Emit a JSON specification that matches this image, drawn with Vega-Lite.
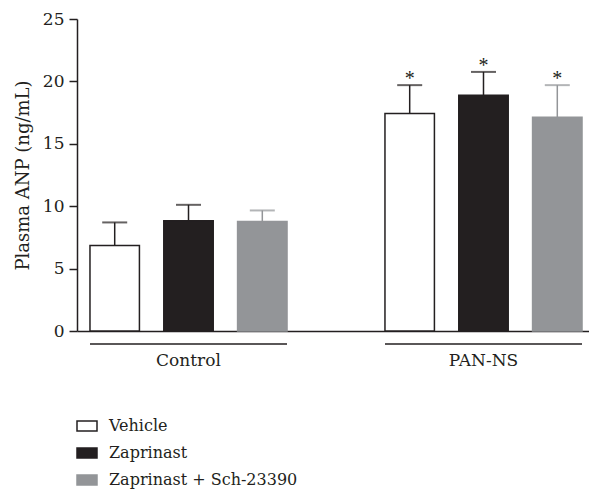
{
  "$schema": "https://vega.github.io/schema/vega-lite/v6.json",
  "width": 518,
  "height": 312,
  "autosize": "none",
  "padding": {"left": 77, "top": 19, "right": 0, "bottom": 160},
  "config": {
    "font": "DejaVu Serif",
    "view": {"stroke": null},
    "axis": {"domainColor": "#231f20", "domainWidth": 1.5, "tickColor": "#231f20", "tickWidth": 1.5, "labelColor": "#231f20", "titleColor": "#231f20", "grid": false, "labelFont": "DejaVu Serif", "titleFont": "DejaVu Serif"},
    "legend": {"labelFont": "DejaVu Serif"}
  },
  "data": {
    "values": [
      {"group": "Control", "treatment": "Vehicle", "value": 6.86, "upper": 8.70, "sig": ""},
      {"group": "Control", "treatment": "Zaprinast", "value": 8.83, "upper": 10.11, "sig": ""},
      {"group": "Control", "treatment": "Zaprinast + Sch-23390", "value": 8.78, "upper": 9.66, "sig": ""},
      {"group": "PAN-NS", "treatment": "Vehicle", "value": 17.43, "upper": 19.70, "sig": "*"},
      {"group": "PAN-NS", "treatment": "Zaprinast", "value": 18.90, "upper": 20.76, "sig": "*"},
      {"group": "PAN-NS", "treatment": "Zaprinast + Sch-23390", "value": 17.13, "upper": 19.70, "sig": "*"}
    ]
  },
  "layer": [
    {
      "mark": {"type": "bar", "strokeWidth": 1.5},
      "encoding": {
        "x": {"field": "group", "type": "nominal", "scale": {"paddingInner": 0.332, "paddingOuter": 0.044}, "title": null,
          "axis": {"labelAngle": 0, "ticks": false, "labelFontSize": 17, "labelPadding": 21, "domainWidth": 1.5}},
        "xOffset": {"field": "treatment", "type": "nominal", "scale": {"domain": ["Vehicle", "Zaprinast", "Zaprinast + Sch-23390"], "paddingInner": 0.33, "paddingOuter": 0}},
        "y": {"field": "value", "type": "quantitative", "scale": {"domain": [0, 25], "nice": false}, "title": "Plasma ANP (ng/mL)",
          "axis": {"values": [0, 5, 10, 15, 20, 25], "tickSize": 8, "labelFontSize": 17, "labelPadding": 5, "titleFontSize": 18, "titleFontWeight": "normal", "titlePadding": 10}},
        "fill": {"field": "treatment", "type": "nominal", "scale": {"domain": ["Vehicle", "Zaprinast", "Zaprinast + Sch-23390"], "range": ["#ffffff", "#231f20", "#939598"]},
          "legend": {"title": null, "orient": "none", "legendX": -1, "legendY": 396, "direction": "vertical", "symbolType": "M-1,-0.5H1V0.5H-1Z", "symbolSize": 400, "symbolStrokeWidth": 1.5, "labelFontSize": 16, "labelColor": "#231f20", "labelOffset": 11, "labelLimit": 400, "rowPadding": 8}},
        "stroke": {"field": "treatment", "type": "nominal", "scale": {"domain": ["Vehicle", "Zaprinast", "Zaprinast + Sch-23390"], "range": ["#231f20", "#231f20", "#939598"]}}
      }
    },
    {
      "mark": {"type": "rule", "strokeWidth": 1.5},
      "encoding": {
        "x": {"field": "group", "type": "nominal"},
        "xOffset": {"field": "treatment", "type": "nominal"},
        "y": {"field": "value", "type": "quantitative"},
        "y2": {"field": "upper"},
        "color": {"field": "treatment", "type": "nominal", "scale": {"domain": ["Vehicle", "Zaprinast", "Zaprinast + Sch-23390"], "range": ["#231f20", "#231f20", "#939598"]}, "legend": null}
      }
    },
    {
      "mark": {"type": "tick", "size": 25, "thickness": 2},
      "encoding": {
        "x": {"field": "group", "type": "nominal"},
        "xOffset": {"field": "treatment", "type": "nominal"},
        "y": {"field": "upper", "type": "quantitative"},
        "color": {"field": "treatment", "type": "nominal", "legend": null}
      }
    },
    {
      "mark": {"type": "text", "font": "Liberation Serif", "fontSize": 20, "baseline": "alphabetic", "dy": 0, "color": "#231f20"},
      "encoding": {
        "x": {"field": "group", "type": "nominal"},
        "xOffset": {"field": "treatment", "type": "nominal"},
        "y": {"field": "upper", "type": "quantitative"},
        "text": {"field": "sig"}
      }
    },
    {
      "transform": [{"aggregate": [], "groupby": ["group"]}],
      "mark": {"type": "rule", "strokeWidth": 1.5, "color": "#231f20"},
      "encoding": {
        "x": {"field": "group", "type": "nominal", "bandPosition": 0},
        "x2": {"field": "group", "bandPosition": 1},
        "y": {"datum": -1.04}
      }
    }
  ]
}
